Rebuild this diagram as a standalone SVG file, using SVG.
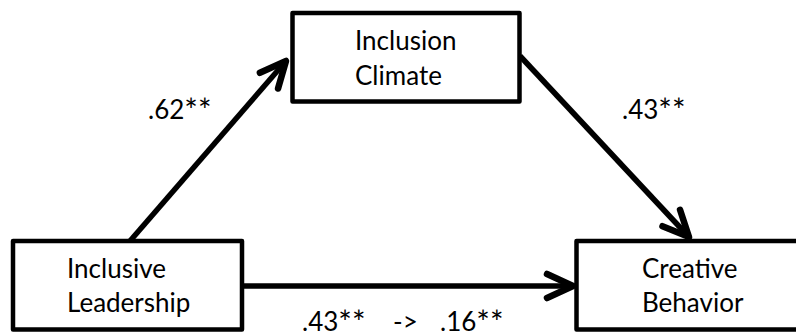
<svg xmlns="http://www.w3.org/2000/svg" width="796" height="334" viewBox="0 0 796 334">
<style>
.box{fill:#fff;stroke:#000;stroke-width:4.5;stroke-linejoin:round}
.t{font-family:Lato,"Open Sans","Liberation Sans",sans-serif;font-size:26px;fill:#000}
.s{font-size:32px}
.c{fill:none;stroke:#000;stroke-width:5.5}
</style>
<defs>
<marker id="ah" markerUnits="userSpaceOnUse" markerWidth="40" markerHeight="40" viewBox="-34 -20 40 40" refX="0" refY="0" orient="auto">
<path d="M-26,-12 L0,0 L-26,12" fill="none" stroke="#000" stroke-width="6.5" stroke-linecap="round" stroke-linejoin="round"/>
</marker>
</defs>
<rect width="796" height="334" fill="#fff"/>
<g id="connectors">
<line class="c" x1="130" y1="241" x2="286" y2="61" marker-end="url(#ah)"/>
<line class="c" x1="520" y1="56" x2="689" y2="237" marker-end="url(#ah)"/>
<line class="c" x1="242" y1="286" x2="573" y2="286" marker-end="url(#ah)"/>
</g>
<g id="node-climate">
<rect class="box" x="292.5" y="13" width="227" height="88.5"/>
<text class="t" x="355" y="50">Inclusion</text>
<text class="t" x="355" y="85">Climate</text>
</g>
<g id="node-leadership">
<rect class="box" x="13" y="241" width="229" height="88.5"/>
<text class="t" x="67" y="278">Inclusive</text>
<text class="t" x="67" y="312">Leadership</text>
</g>
<g id="node-creative">
<rect class="box" x="576.5" y="241" width="240" height="88.5"/>
<text class="t" x="642" y="278">Creative</text>
<text class="t" x="642" y="312">Behavior</text>
</g>
<g id="labels">
<text class="t" x="148" y="119">.62<tspan class="s" dy="3">**</tspan></text>
<text class="t" x="622" y="119">.43<tspan class="s" dy="3">**</tspan></text>
<text class="t" y="331"><tspan x="302">.43</tspan><tspan class="s" dy="3">**</tspan><tspan x="393" dy="-3">-&gt;</tspan><tspan x="440">.16</tspan><tspan class="s" dy="3">**</tspan></text>
</g>
</svg>
